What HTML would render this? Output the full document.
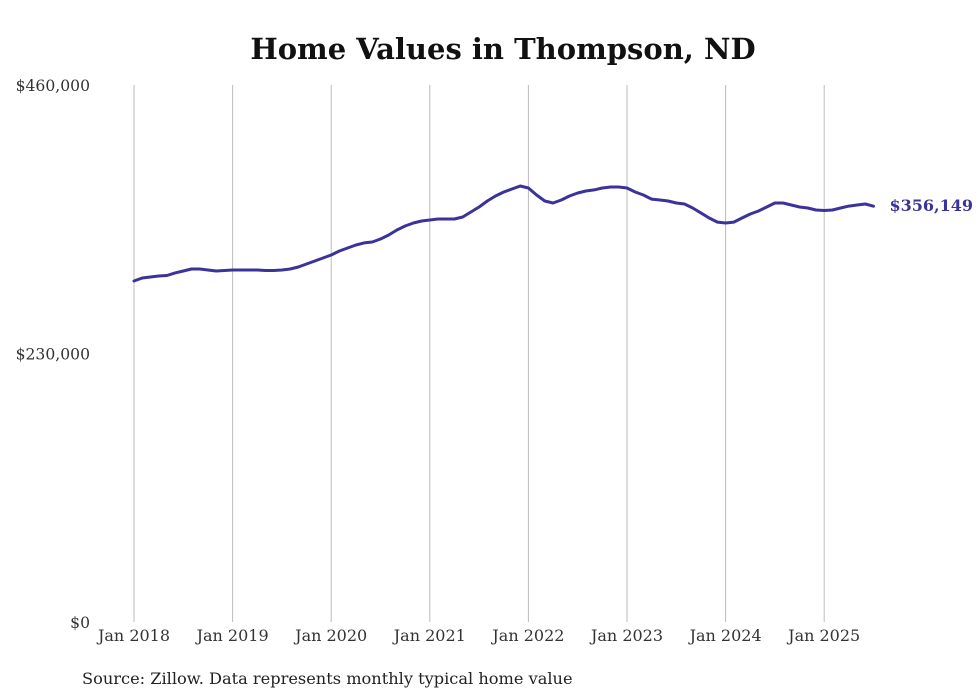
<!DOCTYPE html>
<html><head><meta charset="utf-8"><style>
html,body{margin:0;padding:0;background:#fff;}
svg{display:block;font-family:"DejaVu Serif","Liberation Serif",serif;}
</style></head><body>
<svg id="chart" width="980" height="699" viewBox="0 0 980 699">
<text x="503" y="59" text-anchor="middle" font-size="29" font-weight="bold" fill="#111">Home Values in Thompson, ND</text>
<g id="grid"></g><g id="yaxis"></g><g id="xaxis"></g><g id="series"></g>
<text x="82" y="684" font-size="16.2" fill="#222">Source: Zillow. Data represents monthly typical home value</text>
</svg>
<script>
const yTicks=[0,230000,460000];
const yTickLabels=["$0","$230,000","$460,000"];
const xYears=[2018,2019,2020,2021,2022,2023,2024,2025];
const xTickLabels=["Jan 2018","Jan 2019","Jan 2020","Jan 2021","Jan 2022","Jan 2023","Jan 2024","Jan 2025"];
// monthly values (thousands) Jan 2018 .. Jul 2025
const values=[292.1,294.7,295.5,296.4,296.8,299.0,300.7,302.4,302.4,301.5,300.7,301.1,
301.5,301.5,301.5,301.5,301.1,301.1,301.5,302.4,304.1,306.7,309.2,311.8,
314.4,317.8,320.4,322.9,324.7,325.5,328.1,331.5,335.8,339.2,341.8,343.5,
344.4,345.2,345.2,345.2,346.9,351.2,355.5,360.6,364.9,368.3,370.9,373.5,
371.8,365.8,360.6,358.9,361.5,364.9,367.5,369.2,370.1,371.8,372.6,372.6,
371.8,368.3,365.8,362.3,361.5,360.6,358.9,358.1,354.6,350.4,346.1,342.6,
341.8,342.6,346.1,349.5,352.1,355.5,358.9,358.9,357.2,355.5,354.6,352.9,
352.5,352.9,354.6,356.3,357.2,358.1,356.149];
const lastLabel="$356,149";
const NS="http://www.w3.org/2000/svg";
function y(v){return 622-(v/460000)*537;}
function x(yearFrac){return 134+(yearFrac-2018)*98.6;}
function mk(tag,attrs,parent){const e=document.createElementNS(NS,tag);for(const k in attrs)e.setAttribute(k,attrs[k]);parent.appendChild(e);return e;}
const grid=document.getElementById('grid'),ya=document.getElementById('yaxis'),xa=document.getElementById('xaxis'),se=document.getElementById('series');
xYears.forEach((yr,i)=>{
  const l=mk('line',{x1:x(yr),x2:x(yr),y1:y(460000),y2:y(0),stroke:'#bbb','stroke-width':1},grid);
  
  
  const t=mk('text',{x:x(yr),y:641,'text-anchor':'middle','font-size':16,fill:'#333'},xa);
  t.textContent=xTickLabels[i];
  
  
});
yTicks.forEach((v,i)=>{
  const t=mk('text',{x:90,y:y(v)+6,'text-anchor':'end','font-size':15.6,fill:'#333'},ya);
  t.textContent=yTickLabels[i];
  
  
});
const pts=values.map((v,i)=>x(2018+i/12).toFixed(1)+','+y(v*1000).toFixed(1));
const pl=mk('polyline',{points:pts.join(' '),fill:'none',stroke:'#3a3399','stroke-width':3,'stroke-linejoin':'round','stroke-linecap':'round'},se);


const lv=values[values.length-1];
const lt=mk('text',{x:x(2018+(values.length-1)/12)+16,y:y(lv*1000)+5,'font-size':16,'font-weight':'bold',fill:'#3a3399'},se);
lt.textContent=lastLabel;


</script>
</body></html>
